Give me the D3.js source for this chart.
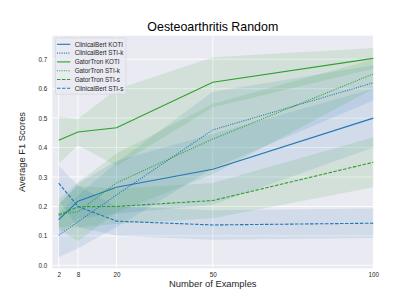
<!DOCTYPE html>
<html>
<head>
<meta charset="utf-8">
<script src="https://cdn.jsdelivr.net/npm/d3@7"></script>
<style>
  body { margin: 0; background: #fff; }
  svg { display: block; font-family: "Liberation Sans", Arial, sans-serif; }
</style>
</head>
<body>
<div id="viz"></div>
<script>
// data
let examples = [2, 8, 20, 50, 100];
let yTicks = [0.0, 0.1, 0.2, 0.3, 0.4, 0.5, 0.6, 0.7];

let seriesNames = ['ClinicalBert KOTI', 'ClinicalBert STI-k', 'GatorTron KOTI',
                   'GatorTron STI-k', 'GatorTron STI-s', 'ClinicalBert STI-s'];

let cbKoti   = [0.155, 0.218, 0.265, 0.326, 0.500];
let cbKotiSd = [0.050, 0.060, 0.090, 0.120, 0.100];
let cbStik   = [0.102, 0.148, 0.239, 0.460, 0.620];
let cbStikSd = [0.075, 0.090, 0.110, 0.130, 0.060];
let gtKoti   = [0.425, 0.453, 0.467, 0.622, 0.703];
let gtKotiSd = [0.080, 0.045, 0.130, 0.085, 0.035];
let gtStik   = [0.174, 0.182, 0.280, 0.429, 0.650];
let gtStikSd = [0.050, 0.100, 0.100, 0.120, 0.050];
let gtStis   = [0.170, 0.199, 0.200, 0.220, 0.350];
let gtStisSd = [0.040, 0.070, 0.060, 0.060, 0.085];
let cbStis   = [0.279, 0.200, 0.150, 0.137, 0.143];
let cbStisSd = [0.060, 0.070, 0.050, 0.050, 0.050];

let blue = '#1f77b4', green = '#2ca02c';
let series = [
  {name: seriesNames[0], mean: cbKoti, sd: cbKotiSd, color: blue,  dash: null},
  {name: seriesNames[1], mean: cbStik, sd: cbStikSd, color: blue,  dash: '1,1.3'},
  {name: seriesNames[2], mean: gtKoti, sd: gtKotiSd, color: green, dash: null},
  {name: seriesNames[3], mean: gtStik, sd: gtStikSd, color: green, dash: '1,1.3'},
  {name: seriesNames[4], mean: gtStis, sd: gtStisSd, color: green, dash: '3.5,1.5'},
  {name: seriesNames[5], mean: cbStis, sd: cbStisSd, color: blue,  dash: '3.5,1.5'}
];

let width = 415, height = 302;
let plotL = 52.3, plotR = 373.3, plotT = 35.7, plotB = 268.3;

let svg = d3.select('#viz').append('svg')
  .attr('width', width)
  .attr('height', height);

let x = d3.scaleLinear().domain([0, 100]).range([plotL, plotR]);
let y = d3.scaleLinear().domain([-0.0102, 0.78]).range([plotB, plotT]);

svg.append('rect')
  .attr('x', plotL).attr('y', plotT)
  .attr('width', plotR - plotL).attr('height', plotB - plotT)
  .attr('fill', '#eaeaf2');

// grid
svg.append('g').selectAll('line').data(yTicks).enter().append('line')
  .attr('x1', plotL).attr('x2', plotR)
  .attr('y1', d => y(d)).attr('y2', d => y(d))
  .attr('stroke', '#fff').attr('stroke-width', 0.9);
svg.append('g').selectAll('line').data(examples).enter().append('line')
  .attr('x1', d => x(d)).attr('x2', d => x(d))
  .attr('y1', plotT).attr('y2', plotB)
  .attr('stroke', '#fff').attr('stroke-width', 0.9);

// shaded bands
let area = d3.area()
  .x((d, i) => x(examples[i]))
  .y0(d => y(d[0] - d[1]))
  .y1(d => y(d[0] + d[1]));

series.forEach(function(s) {
  let pts = s.mean.map((m, i) => [m, s.sd[i]]);
  svg.append('path')
    .attr('d', area(pts))
    .attr('fill', s.color)
    .attr('fill-opacity', 0.12);
});

// lines
let line = d3.line()
  .x((d, i) => x(examples[i]))
  .y(d => y(d));

series.forEach(function(s) {
  svg.append('path')
    .attr('d', line(s.mean))
    .attr('fill', 'none')
    .attr('stroke', s.color)
    .attr('stroke-width', 1.1)
    .attr('stroke-dasharray', s.dash);
});

// axes (tick labels only, seaborn style)
let xAxis = svg.append('g')
  .attr('transform', 'translate(0,' + plotB + ')')
  .call(d3.axisBottom(x).tickValues(examples).tickSize(0).tickPadding(4));
let yAxis = svg.append('g')
  .attr('transform', 'translate(' + plotL + ',0)')
  .call(d3.axisLeft(y).tickValues(yTicks).tickFormat(d3.format('.1f')).tickSize(0).tickPadding(5));
[xAxis, yAxis].forEach(function(a) {
  a.select('.domain').remove();
  a.selectAll('text')
    .attr('font-family', '"Liberation Sans", Arial, sans-serif')
    .attr('font-size', 6.3)
    .attr('fill', '#262626');
});

// titles
svg.append('text')
  .attr('x', (plotL + plotR) / 2).attr('y', 31)
  .attr('text-anchor', 'middle')
  .attr('font-size', 12.4)
  .attr('fill', '#000')
  .text('Oesteoarthritis Random');

svg.append('text')
  .attr('x', (plotL + plotR) / 2).attr('y', 287)
  .attr('text-anchor', 'middle')
  .attr('font-size', 9.4)
  .attr('fill', '#262626')
  .text('Number of Examples');

svg.append('text')
  .attr('transform', 'translate(25,' + (plotT + plotB) / 2 + ') rotate(-90)')
  .attr('text-anchor', 'middle')
  .attr('font-size', 9.4)
  .attr('fill', '#262626')
  .text('Average F1 Scores');

// legend
let legend = svg.append('g').attr('transform', 'translate(55.5,37.7)');
legend.append('rect')
  .attr('width', 70.5).attr('height', 56.5)
  .attr('rx', 1.5)
  .attr('fill', '#eaeaf2').attr('fill-opacity', 0.8)
  .attr('stroke', '#d0d0d8').attr('stroke-width', 0.6);

let items = legend.selectAll('.item').data(series).enter().append('g')
  .attr('class', 'item')
  .attr('transform', (d, i) => 'translate(0,' + (6.6 + i * 8.8) + ')');
items.append('line')
  .attr('x1', 1.5).attr('x2', 14.8)
  .attr('stroke', d => d.color)
  .attr('stroke-width', 1.1)
  .attr('stroke-dasharray', d => d.dash);
items.append('text')
  .attr('x', 19.2).attr('y', 2.2)
  .attr('font-size', 6.3)
  .attr('fill', '#262626')
  .text(d => d.name);
</script>
</body>
</html>
